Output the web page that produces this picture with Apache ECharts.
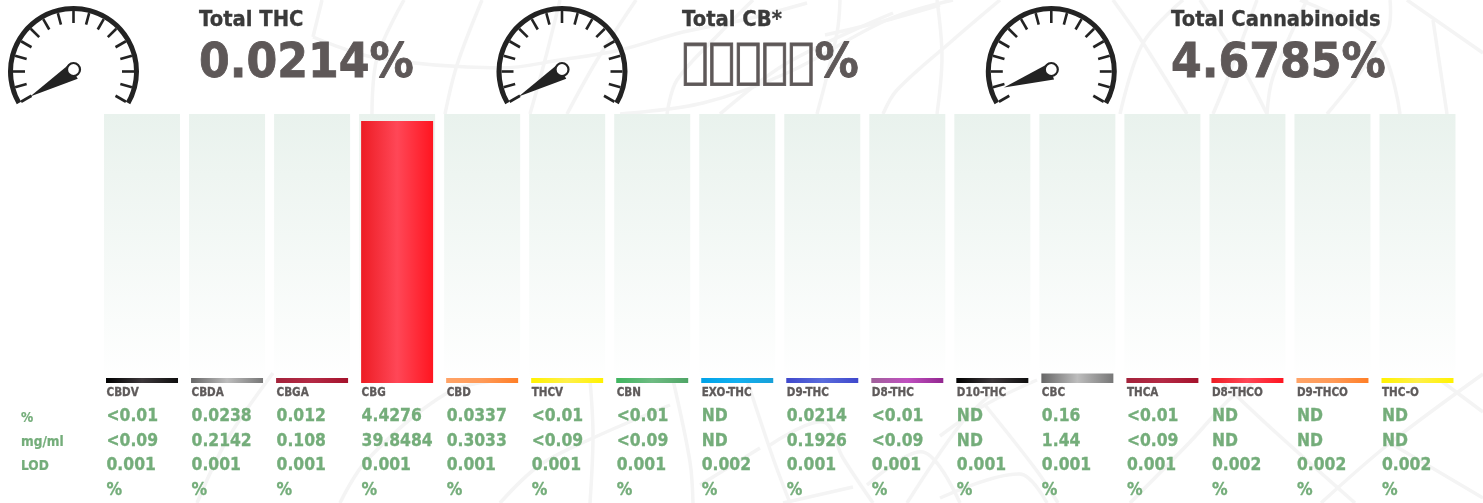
<!DOCTYPE html>
<html>
<head>
<meta charset="utf-8">
<title>Cannabinoids</title>
<script src="https://cdn.jsdelivr.net/npm/echarts@6/dist/echarts.min.js"></script>
<style>
    html, body { margin: 0; padding: 0; background: #fff; }
    #main { width: 1483px; height: 503px; }
</style>
</head>
<body>
<div id="main"></div>
<script>
// 数据
const names = ['CBDV', 'CBDA', 'CBGA', 'CBG', 'CBD', 'THCV', 'CBN', 'EXO-THC', 'D9-THC', 'D8-THC', 'D10-THC', 'CBC', 'THCA', 'D8-THCO', 'D9-THCO', 'THC-O']
const percentText = ['<0.01', '0.0238', '0.012', '4.4276', '0.0337', '<0.01', '<0.01', 'ND', '0.0214', '<0.01', 'ND', '0.16', '<0.01', 'ND', 'ND', 'ND']
const mgText = ['<0.09', '0.2142', '0.108', '39.8484', '0.3033', '<0.09', '<0.09', 'ND', '0.1926', '<0.09', 'ND', '1.44', '<0.09', 'ND', 'ND', 'ND']
const lodText = ['0.001', '0.001', '0.001', '0.001', '0.001', '0.001', '0.001', '0.002', '0.001', '0.001', '0.001', '0.001', '0.001', '0.002', '0.002', '0.002']
const unitText = ['%', '%', '%', '%', '%', '%', '%', '%', '%', '%', '%', '%', '%', '%', '%', '%']
const barValues = [0.01, 0.0238, 0.012, 4.4276, 0.0337, 0.01, 0.01, 0, 0.0214, 0.01, 0, 0.16, 0.01, 0, 0, 0]
const rowLabels = ['%', 'mg/ml', 'LOD']

const gaugeTitles = ['Total THC', 'Total CB*', 'Total Cannabinoids']
const gaugeText = ['0.0214%', '\uE000\uE000\uE000\uE000\uE000%', '4.6785%']
const gaugeValues = [0.0214, 0.02, 4.6785]

// 每根柱子的渐变色 (左, 中, 右)
const barColors = [
    ['#000000', '#3d383b', '#0f0f0f'],
    ['#666666', '#bdbdbd', '#777777'],
    ['#a3233b', '#b42a45', '#a5122c'],
    ['#ed1c24', '#ff4757', '#ff1520'],
    ['#ffa468', '#ff9a58', '#ff7f27'],
    ['#fff200', '#fff04a', '#fff200'],
    ['#3fb55f', '#6fbb83', '#4fa566'],
    ['#00a2e8', '#12b0f0', '#18a0d8'],
    ['#3f48cc', '#5a6cdc', '#3f48cc'],
    ['#a0609a', '#c050c0', '#92278f'],
    ['#000000', '#3d383b', '#0f0f0f'],
    ['#666666', '#bdbdbd', '#777777'],
    ['#a3233b', '#b42a45', '#a5122c'],
    ['#ed1c24', '#ff4757', '#ff1520'],
    ['#ffa468', '#ff9a58', '#ff7f27'],
    ['#fff200', '#fff04a', '#fff200']
]

// 背景水印线
const watermark = [
    // 上半部分
    [[322, 0], [313, 37]],
    [[313, 37], [377, 58], [500, 68], [560, 60], [620, 50], [683, 32], [743, 20], [807, 3]],
    [[404, 0], [377, 58], [372, 114]],
    [[482, 0], [457, 65], [445, 114]],
    [[560, 0], [545, 60], [530, 114]],
    [[636, 0], [597, 60], [567, 114]],
    [[840, 0], [837, 33], [817, 114]],
    [[825, 35], [880, 22], [940, 5]],
    [[937, 0], [942, 57], [937, 114]],
    [[620, 114], [703, 103], [787, 73], [887, 20], [953, 0]],
    [[667, 114], [677, 80], [720, 33], [753, 0]],
    [[720, 114], [787, 63], [893, 13]],
    [[883, 114], [897, 90], [953, 40], [1000, 0]],
    [[1113, 0], [1143, 43], [1187, 114]],
    [[1183, 0], [1143, 43], [1120, 114]],
    [[1257, 0], [1227, 80], [1213, 114]],
    [[1200, 0], [1240, 63], [1267, 114]],
    [[1307, 0], [1273, 77], [1267, 114]],
    [[1390, 0], [1387, 33], [1327, 114]],
    [[1300, 0], [1377, 43], [1400, 114]],
    [[1433, 20], [1447, 114]],
    [[1407, 0], [1483, 53]],
    // 下半部分
    [[197, 503], [227, 440], [273, 373]],
    [[340, 503], [367, 460], [447, 393], [500, 380]],
    [[500, 503], [540, 465], [593, 438], [670, 405]],
    [[590, 380], [593, 435], [590, 503]],
    [[673, 380], [690, 462], [693, 503]],
    [[747, 380], [773, 458], [790, 503]],
    [[770, 445], [823, 422], [843, 458], [873, 503]],
    [[867, 485], [923, 452], [960, 503]],
    [[700, 485], [760, 448]],
    [[783, 503], [853, 487]],
    [[907, 503], [960, 425], [990, 395]],
    [[985, 405], [1037, 471], [1058, 503]],
    [[940, 436], [985, 405], [1037, 380]],
    [[940, 498], [1020, 474], [1047, 503]],
    [[1130, 503], [1189, 443], [1234, 395], [1260, 380]],
    [[1220, 380], [1272, 429], [1355, 503]],
    [[1321, 503], [1390, 443], [1483, 374]],
    [[1390, 443], [1483, 498]],
    [[1440, 380], [1483, 412]]
]

const gridTop = 114
const gridBottom = 120
const gridLeft = 99.5
const gridWidth = 1360.5
const axisMax = 4.546
const textFont = 'DejaVu Sans'
const green = '#74ad7a'

let myChart = echarts.init(document.querySelector('#main'))

// 仪表盘
function gaugeSeries(cx, value) {
    return {
        type: 'gauge',
        center: [cx, 71.5],
        radius: 65.5,
        startAngle: 210,
        endAngle: -30,
        min: 0,
        max: 100,
        splitNumber: 16,
        silent: true,
        axisLine: { lineStyle: { width: 5, color: [[1, '#232323']] } },
        axisTick: { show: false },
        splitLine: { distance: 0, length: 12, lineStyle: { width: 2.6, color: '#232323' } },
        axisLabel: { show: false },
        pointer: {
            icon: 'path://M50 0 L100 100 L0 100 Z',
            length: 50,
            width: 17,
            itemStyle: { color: '#232323' }
        },
        anchor: {
            show: true,
            showAbove: true,
            size: 13,
            offsetCenter: [0, -2],
            itemStyle: { color: '#fff', borderColor: '#232323', borderWidth: 2.2 }
        },
        title: { show: false },
        detail: { show: false },
        data: [{ value: value }]
    }
}

// 柱子下方的文字表
function renderTable(params, api) {
    let i = api.value(0)
    let p = api.coord([i, 0])
    let x = p[0] - 35.5
    let lines = [
        { t: names[i], dy: 10, size: 10.4, color: '#5e5a5a' },
        { t: percentText[i], dy: 33, size: 15.6, color: green },
        { t: mgText[i], dy: 58, size: 15.6, color: green },
        { t: lodText[i], dy: 82, size: 15.6, color: green },
        { t: unitText[i], dy: 107, size: 15.6, color: green }
    ]
    return {
        type: 'group',
        children: lines.map(l => ({
            type: 'text',
            x: x,
            y: p[1] + l.dy,
            scaleY: 1.12,
            style: {
                text: l.t,
                fill: l.color,
                stroke: l.color,
                lineWidth: 0.3,
                font: `bold ${l.size}px "${textFont}"`,
                align: 'left',
                verticalAlign: 'middle'
            }
        }))
    }
}

function textEl(t, x, y, size, color, sy, sw) {
    return {
        type: 'text',
        x: x,
        y: y,
        scaleY: sy,
        z: 5,
        silent: true,
        style: {
            text: t,
            fill: color,
            stroke: color,
            lineWidth: sw,
            font: `bold ${size}px "${textFont}"`,
            align: 'left',
            verticalAlign: 'middle'
        }
    }
}

const graphicLines = watermark.map(pts => ({
    type: 'polyline',
    z: -10,
    silent: true,
    shape: { points: pts, smooth: 0.35 },
    style: { stroke: '#f4f4f4', lineWidth: 3.5, fill: null }
}))

const titleX = [199, 682, 1171]
const graphicLabels = rowLabels.map((t, i) => textEl(t, 21, [418, 442, 466][i], 12.2, green, 1.12, 0.2))
    .concat(gaugeTitles.map((t, i) => textEl(t, titleX[i], 20.5, 19.6, '#3a3a3a', 1.05, 0.3)))
    .concat(gaugeText.map((t, i) => textEl(t, titleX[i], 64, 44.2, '#5e5858', 1.1, 0.8)))

const option = {
    animation: false,
    backgroundColor: '#fff',
    textStyle: { fontFamily: textFont },
    grid: { left: gridLeft, top: gridTop, width: gridWidth, bottom: gridBottom },
    xAxis: [
        { type: 'category', data: names, show: false },
        { type: 'category', data: names, show: false }
    ],
    yAxis: { type: 'value', min: 0, max: axisMax, show: false },
    graphic: { elements: graphicLines.concat(graphicLabels) },
    series: [
        {
            // 浅色背景柱
            type: 'bar',
            xAxisIndex: 1,
            barWidth: 76,
            silent: true,
            data: barValues,
            itemStyle: { opacity: 0 },
            showBackground: true,
            backgroundStyle: {
                color: {
                    type: 'linear', x: 0, y: 0, x2: 0, y2: 1,
                    colorStops: [
                        { offset: 0, color: '#e9f2ed' },
                        { offset: 1, color: '#ffffff' }
                    ]
                }
            }
        },
        {
            type: 'bar',
            barWidth: 72,
            barMinHeight: 5,
            silent: true,
            z: 3,
            data: barValues.map((v, i) => ({
                value: v,
                itemStyle: {
                    color: {
                        type: 'linear', x: 0, y: 0, x2: 1, y2: 0,
                        colorStops: [
                            { offset: 0, color: barColors[i][0] },
                            { offset: 0.5, color: barColors[i][1] },
                            { offset: 1, color: barColors[i][2] }
                        ]
                    }
                }
            }))
        },
        {
            type: 'custom',
            silent: true,
            z: 4,
            data: names.map((n, i) => [i]),
            encode: { x: 0 },
            renderItem: renderTable
        },
        gaugeSeries(73.5, gaugeValues[0]),
        gaugeSeries(562, gaugeValues[1]),
        gaugeSeries(1051.3, gaugeValues[2])
    ]
}

myChart.setOption(option)
</script>
</body>
</html>
